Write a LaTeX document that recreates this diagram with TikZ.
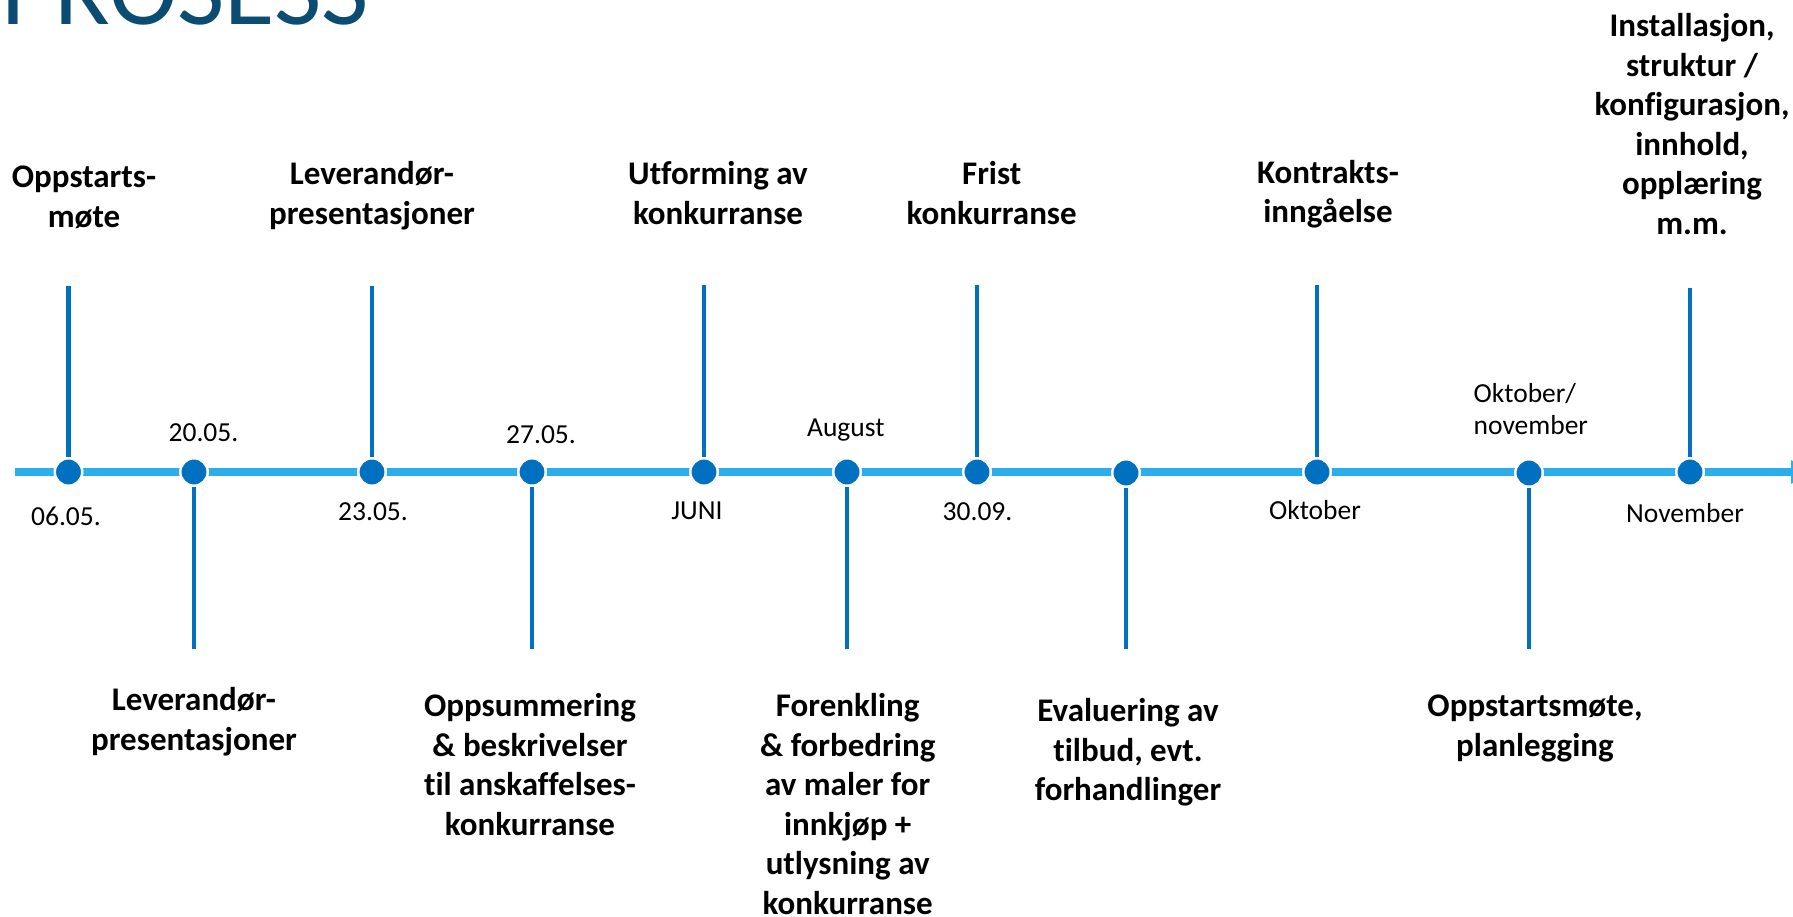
\documentclass[tikz,border=0pt]{standalone}
\usepackage{fontspec}
\setmainfont{Carlito}[Ligatures=NoCommon]
\usetikzlibrary{arrows.meta}
\definecolor{linecol}{HTML}{2AAEEC}
\definecolor{dotcol}{HTML}{0070C0}
\definecolor{titlecol}{HTML}{0B4C72}
\newcommand{\mlines}[1]{\parbox[t]{420pt}{\centering #1}}
\newcommand{\llines}[1]{\parbox[t]{200pt}{\raggedright #1}}
\begin{document}
\begin{tikzpicture}[x=1pt,y=-1pt,
  axisline/.style={line width=7.5pt, draw=linecol, -{Triangle[length=30pt,width=21pt]}},
  dot/.style={circle, fill=dotcol, draw=white, line width=2.5pt, minimum size=27.5pt, inner sep=0pt},
  stem/.style={line width=4.5pt, draw=dotcol},
  lbl/.style={inner sep=0pt, anchor=base, font=\fontsize{33}{39.5}\selectfont\bfseries},
  datelbl/.style={inner sep=0pt, anchor=base, font=\fontsize{27.5}{31.7}\selectfont},
  titlelbl/.style={inner sep=0pt, anchor=base west, text=titlecol, font=\fontsize{103}{110}\selectfont},
]
\useasboundingbox (0,0) rectangle (1793,917);
\clip (0,0) rectangle (1793,917);

% title
\node[titlelbl] (title) at (1,25) {PROSESS};

% main axis
\coordinate (start) at (15,472);
\coordinate (end) at (1821,472);
\draw[axisline] (start) -- (end);

% dots
\node[dot] (d1) at (68.5,472) {};
\node[dot] (d2) at (194,472) {};
\node[dot] (d3) at (372,472) {};
\node[dot] (d4) at (532,472) {};
\node[dot] (d5) at (704,472) {};
\node[dot] (d6) at (847,472) {};
\node[dot] (d7) at (977,472) {};
\node[dot] (d8) at (1126,473) {};
\node[dot] (d9) at (1317,472) {};
\node[dot] (d10) at (1529,473) {};
\node[dot] (d11) at (1690,472) {};

% stem ends
\coordinate (s1) at (68.5,286);
\coordinate (s2) at (194,649);
\coordinate (s3) at (372,286);
\coordinate (s4) at (532,649);
\coordinate (s5) at (704,285);
\coordinate (s6) at (847,649);
\coordinate (s7) at (977,285);
\coordinate (s8) at (1126,649);
\coordinate (s9) at (1317,285);
\coordinate (s10) at (1529,649);
\coordinate (s11) at (1690,288);

\foreach \i in {1,...,11} {\draw[stem] (d\i) -- (s\i);}

% upper labels
\node[lbl] (t1) at (84,188) {\mlines{Oppstarts-\\møte}};
\node[lbl] (t3) at (372,185) {\mlines{Leverandør-\\presentasjoner}};
\node[lbl] (t5) at (718,185) {\mlines{Utforming av\\konkurranse}};
\node[lbl] (t7) at (991.7,185) {\mlines{Frist\hspace*{22pt}\\konkurranse}};
\node[lbl] (t9) at (1328,183.3) {\mlines{Kontrakts-\\inngåelse}};
\node[lbl] (t11) at (1692,37) {\mlines{Installasjon,\\struktur /\\konfigurasjon,\\innhold,\\opplæring\\m.m.}};

% lower labels
\node[lbl] (b2) at (194,710.7) {\mlines{Leverandør-\\presentasjoner}};
\node[lbl] (b4) at (530,716.7) {\mlines{Oppsummering\\\& beskrivelser\\til anskaffelses-\\konkurranse}};
\node[lbl] (b6) at (847.7,716.5) {\mlines{Forenkling\\\& forbedring\\av maler for\\innkjøp +\\utlysning av\\konkurranse}};
\node[lbl] (b8) at (1128,721.7) {\mlines{Evaluering av\\tilbud, evt.\\forhandlinger}};
\node[lbl] (b10) at (1535,716.7) {\mlines{Oppstartsmøte,\\planlegging}};

% dates
\node[datelbl] (l1) at (66,525) {06.05.};
\node[datelbl] (l2) at (203.5,441.7) {20.05.};
\node[datelbl] (l3) at (373,520) {23.05.};
\node[datelbl] (l4) at (541,443) {27.05.};
\node[datelbl] (l5) at (697,519) {JUNI};
\node[datelbl] (l6) at (845.8,436.7) {August};
\node[datelbl] (l7) at (977.5,520) {30.09.};
\node[datelbl] (l8) at (1315,519) {Oktober};
\node[datelbl, anchor=base west] (l9) at (1473.5,402.3) {\llines{Oktober/\\november}};
\node[datelbl] (l10) at (1685,522) {November};
\end{tikzpicture}
\end{document}
